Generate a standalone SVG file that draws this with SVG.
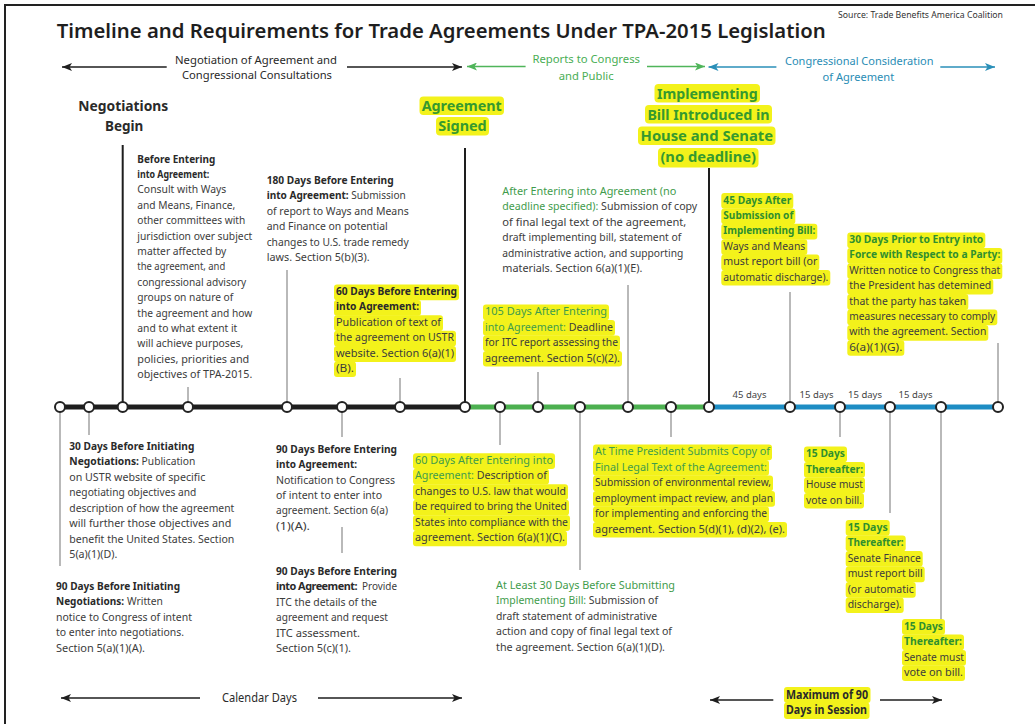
<svg xmlns="http://www.w3.org/2000/svg" width="1035" height="724" viewBox="0 0 1035 724">
<style>
  .t{font-family:"Noto Sans","Open Sans",sans-serif;font-size:10.8px;fill:#3c3c3c}
  .hd{font-weight:700;fill:#2a2a2a}
  .gn{fill:#3f9c4c}
  .gb{font-weight:700;fill:#2f8f2f}
  .big{font-family:"Noto Sans","Open Sans",sans-serif;font-size:15px;font-weight:700}
  .hl{fill:#f3f21b}
  .lead{stroke:#8a8a8a;stroke-width:1.2}
  .leadk{stroke:#1e1e1e;stroke-width:2}
  .node{fill:#fff;stroke:#222;stroke-width:2}
  .ph{font-family:"Noto Sans","Open Sans",sans-serif;font-size:11px}
  .days{font-family:"Noto Sans","Open Sans",sans-serif;font-size:9.5px;fill:#444}
</style>
<defs>
  <marker id="ak" markerUnits="userSpaceOnUse" markerWidth="10" markerHeight="8" refX="10" refY="4" orient="auto"><path d="M0,0 L10,4 L0,8 L2.5,4 z" fill="#1e1e1e"/></marker>
  <marker id="ag" markerUnits="userSpaceOnUse" markerWidth="10" markerHeight="8" refX="10" refY="4" orient="auto"><path d="M0,0 L10,4 L0,8 L2.5,4 z" fill="#4fb55a"/></marker>
  <marker id="ab" markerUnits="userSpaceOnUse" markerWidth="10" markerHeight="8" refX="10" refY="4" orient="auto"><path d="M0,0 L10,4 L0,8 L2.5,4 z" fill="#2a8fb8"/></marker>
</defs>
<rect width="1035" height="724" fill="#fff"/>
<rect x="5" y="5" width="1040" height="730" fill="none" stroke="#222" stroke-width="2"/>

<!-- heading -->
<g id="title">
  <text x="56.7" y="37.5" textLength="769" lengthAdjust="spacingAndGlyphs" style="font-family:'Noto Sans','Open Sans',sans-serif;font-size:19px;font-weight:600;fill:#1e1e1e">Timeline and Requirements for Trade Agreements Under TPA-2015 Legislation</text>
  <text x="838" y="18" textLength="165" lengthAdjust="spacingAndGlyphs" style="font-family:'Noto Sans','Open Sans',sans-serif;font-size:9.5px;fill:#333">Source: Trade Benefits America Coalition</text>
</g>

<!-- phase bands -->
<g id="phases">
  <line x1="166.7" y1="67" x2="62" y2="67" stroke="#1e1e1e" stroke-width="1.5" marker-end="url(#ak)"/>
  <line x1="347" y1="67" x2="462" y2="67" stroke="#1e1e1e" stroke-width="1.5" marker-end="url(#ak)"/>
  <text class="ph" x="175" y="63.5" textLength="162" lengthAdjust="spacingAndGlyphs" fill="#2a2a2a">Negotiation of Agreement and</text>
  <text class="ph" x="182" y="79" textLength="150" lengthAdjust="spacingAndGlyphs" fill="#2a2a2a">Congressional Consultations</text>
  <line x1="525.6" y1="66.5" x2="467" y2="66.5" stroke="#4fb55a" stroke-width="1.5" marker-end="url(#ag)"/>
  <line x1="647" y1="66.5" x2="705" y2="66.5" stroke="#4fb55a" stroke-width="1.5" marker-end="url(#ag)"/>
  <text class="ph" x="532.4" y="62.5" textLength="107.6" lengthAdjust="spacingAndGlyphs" fill="#4aae55">Reports to Congress</text>
  <text class="ph" x="558.7" y="79.5" textLength="55" lengthAdjust="spacingAndGlyphs" fill="#4aae55">and Public</text>
  <line x1="776.4" y1="67" x2="708.5" y2="67" stroke="#2a8fb8" stroke-width="1.5" marker-end="url(#ab)"/>
  <line x1="940.3" y1="67" x2="995" y2="67" stroke="#2a8fb8" stroke-width="1.5" marker-end="url(#ab)"/>
  <text class="ph" x="785" y="64.5" textLength="148.5" lengthAdjust="spacingAndGlyphs" fill="#2a8db5">Congressional Consideration</text>
  <text class="ph" x="822.5" y="80.5" textLength="71.7" lengthAdjust="spacingAndGlyphs" fill="#2a8db5">of Agreement</text>
</g>

<!-- milestone headings -->
<g id="negotiations-begin">
  <text class="big" fill="#2a2a2a"><tspan x="78.3" y="110.5" textLength="90" lengthAdjust="spacingAndGlyphs">Negotiations</tspan><tspan x="105" y="131" textLength="38.3" lengthAdjust="spacingAndGlyphs">Begin</tspan></text>
</g>
<g id="agreement-signed">
  <rect class="hl" x="419.5" y="96.5" width="84.5" height="18.5" rx="4"/>
  <rect class="hl" x="436" y="117" width="53" height="18.5" rx="4"/>
  <text class="big" fill="#35992f"><tspan x="421.7" y="110.5" textLength="80" lengthAdjust="spacingAndGlyphs">Agreement</tspan><tspan x="438.3" y="131" textLength="48.4" lengthAdjust="spacingAndGlyphs">Signed</tspan></text>
</g>
<g id="bill-introduced">
  <rect class="hl" x="654.5" y="84" width="105.5" height="18.5" rx="4"/>
  <rect class="hl" x="645" y="105" width="127" height="18.5" rx="4"/>
  <rect class="hl" x="638" y="126.5" width="137.5" height="18.5" rx="4"/>
  <rect class="hl" x="658" y="148" width="100.5" height="19.5" rx="4"/>
  <text class="big" fill="#35992f"><tspan x="657" y="98.5" textLength="100.7" lengthAdjust="spacingAndGlyphs">Implementing</tspan><tspan x="647.4" y="119.5" textLength="122" lengthAdjust="spacingAndGlyphs">Bill Introduced in</tspan><tspan x="640.6" y="140.5" textLength="132.4" lengthAdjust="spacingAndGlyphs">House and Senate</tspan><tspan x="660.4" y="161.5" textLength="95.6" lengthAdjust="spacingAndGlyphs">(no deadline)</tspan></text>
</g>

<!-- leader lines -->
<g id="connectors">
  <line class="leadk" x1="122.7" y1="145" x2="122.7" y2="407"/>
  <line class="leadk" x1="465" y1="148" x2="465" y2="407"/>
  <line class="leadk" x1="709" y1="168" x2="709" y2="407"/>
  <line class="lead" x1="188" y1="387" x2="188" y2="407"/>
  <line class="lead" x1="287" y1="270" x2="287" y2="407"/>
  <line class="lead" x1="400" y1="378" x2="400" y2="407"/>
  <line class="lead" x1="538" y1="372" x2="538" y2="407"/>
  <line class="lead" x1="628" y1="285" x2="628" y2="407"/>
  <line class="lead" x1="790" y1="292" x2="790" y2="407"/>
  <line class="lead" x1="998" y1="343" x2="998" y2="407"/>
  <line class="lead" x1="60" y1="407" x2="60" y2="566"/>
  <line class="lead" x1="89" y1="407" x2="89" y2="435"/>
  <line class="lead" x1="342" y1="407" x2="342" y2="437"/>
  <line class="lead" x1="342" y1="527" x2="342" y2="553"/>
  <line class="lead" x1="500" y1="407" x2="500" y2="445"/>
  <line class="lead" x1="580" y1="407" x2="580" y2="570"/>
  <line class="lead" x1="671" y1="407" x2="671" y2="437"/>
  <line class="lead" x1="840" y1="407" x2="840" y2="437"/>
  <line class="lead" x1="890" y1="407" x2="890" y2="513"/>
  <line class="lead" x1="941" y1="407" x2="941" y2="620"/>
</g>

<!-- main time axis -->
<g id="timeline">
  <line x1="60" y1="407" x2="465" y2="407" stroke="#1e1e1e" stroke-width="5"/>
  <line x1="465" y1="407" x2="709" y2="407" stroke="#4cb050" stroke-width="5"/>
  <line x1="709" y1="407" x2="998" y2="407" stroke="#1d8dc4" stroke-width="5"/>
  <circle class="node" cx="60" cy="407" r="5"/>
  <circle class="node" cx="89" cy="407" r="5"/>
  <circle class="node" cx="122.7" cy="407" r="5"/>
  <circle class="node" cx="188" cy="407" r="5"/>
  <circle class="node" cx="287" cy="407" r="5"/>
  <circle class="node" cx="342" cy="407" r="5"/>
  <circle class="node" cx="400" cy="407" r="5"/>
  <circle class="node" cx="465" cy="407" r="5"/>
  <circle class="node" cx="500" cy="407" r="5"/>
  <circle class="node" cx="538" cy="407" r="5"/>
  <circle class="node" cx="580" cy="407" r="5"/>
  <circle class="node" cx="628" cy="407" r="5"/>
  <circle class="node" cx="671" cy="407" r="5"/>
  <circle class="node" cx="709" cy="407" r="5"/>
  <circle class="node" cx="790" cy="407" r="5"/>
  <circle class="node" cx="840" cy="407" r="5"/>
  <circle class="node" cx="890" cy="407" r="5"/>
  <circle class="node" cx="941" cy="407" r="5"/>
  <circle class="node" cx="998" cy="407" r="5"/>
  <text class="days" x="749.5" y="398" text-anchor="middle">45 days</text>
  <text class="days" x="816.5" y="398" text-anchor="middle">15 days</text>
  <text class="days" x="865" y="398" text-anchor="middle">15 days</text>
  <text class="days" x="915.5" y="398" text-anchor="middle">15 days</text>
</g>

<!-- blocks above the axis -->
<g id="before-entering" class="t">
  <text class="hd" x="137.3" y="162.5" textLength="78" lengthAdjust="spacingAndGlyphs">Before Entering</text>
  <text class="hd" x="137.3" y="177.9" textLength="72" lengthAdjust="spacingAndGlyphs">into Agreement:</text>
  <text x="137.3" y="193.3" textLength="89" lengthAdjust="spacingAndGlyphs">Consult with Ways</text>
  <text x="137.3" y="208.7" textLength="98" lengthAdjust="spacingAndGlyphs">and Means, Finance,</text>
  <text x="137.3" y="224.1" textLength="108" lengthAdjust="spacingAndGlyphs">other committees with</text>
  <text x="137.3" y="239.5" textLength="115" lengthAdjust="spacingAndGlyphs">jurisdiction over subject</text>
  <text x="137.3" y="254.9" textLength="89" lengthAdjust="spacingAndGlyphs">matter affected by</text>
  <text x="137.3" y="270.3" textLength="88" lengthAdjust="spacingAndGlyphs">the agreement, and</text>
  <text x="137.3" y="285.7" textLength="109" lengthAdjust="spacingAndGlyphs">congressional advisory</text>
  <text x="137.3" y="301.1" textLength="96" lengthAdjust="spacingAndGlyphs">groups on nature of</text>
  <text x="137.3" y="316.5" textLength="115" lengthAdjust="spacingAndGlyphs">the agreement and how</text>
  <text x="137.3" y="331.9" textLength="100" lengthAdjust="spacingAndGlyphs">and to what extent it</text>
  <text x="137.3" y="347.3" textLength="106" lengthAdjust="spacingAndGlyphs">will achieve purposes,</text>
  <text x="137.3" y="362.7" textLength="112" lengthAdjust="spacingAndGlyphs">policies, priorities and</text>
  <text x="137.3" y="378.1" textLength="115" lengthAdjust="spacingAndGlyphs">objectives of TPA-2015.</text>
</g>

<g id="days-180-before" class="t">
  <text class="hd" x="266.7" y="184" textLength="127" lengthAdjust="spacingAndGlyphs">180 Days Before Entering</text>
  <text x="266.7" y="199.4" textLength="139" lengthAdjust="spacingAndGlyphs"><tspan class="hd">into Agreement:</tspan> Submission</text>
  <text x="266.7" y="214.8" textLength="142" lengthAdjust="spacingAndGlyphs">of report to Ways and Means</text>
  <text x="266.7" y="230.2" textLength="121" lengthAdjust="spacingAndGlyphs">and Finance on potential</text>
  <text x="266.7" y="245.6" textLength="142" lengthAdjust="spacingAndGlyphs">changes to U.S. trade remedy</text>
  <text x="266.7" y="261" textLength="103" lengthAdjust="spacingAndGlyphs">laws. Section 5(b)(3).</text>
</g>

<g id="days-60-before" class="t">
  <rect class="hl" x="334" y="284.5" width="125" height="15.8" rx="3"/>
  <rect class="hl" x="334" y="299.9" width="87" height="15.8" rx="3"/>
  <rect class="hl" x="334" y="315.3" width="109" height="15.8" rx="3"/>
  <rect class="hl" x="334" y="330.7" width="122" height="15.8" rx="3"/>
  <rect class="hl" x="334" y="346.1" width="122" height="15.8" rx="3"/>
  <rect class="hl" x="334" y="361.5" width="22" height="15.5" rx="3"/>
  <text class="hd" x="336" y="295" textLength="121" lengthAdjust="spacingAndGlyphs">60 Days Before Entering</text>
  <text class="hd" x="336" y="310.4" textLength="83" lengthAdjust="spacingAndGlyphs">into Agreement:</text>
  <text x="336" y="325.8" textLength="105" lengthAdjust="spacingAndGlyphs">Publication of text of</text>
  <text x="336" y="341.2" textLength="118" lengthAdjust="spacingAndGlyphs">the agreement on USTR</text>
  <text x="336" y="356.6" textLength="118" lengthAdjust="spacingAndGlyphs">website. Section 6(a)(1)</text>
  <text x="336" y="372" textLength="18" lengthAdjust="spacingAndGlyphs">(B).</text>
</g>

<g id="after-entering" class="t">
  <text class="gn" x="502.3" y="195" textLength="174" lengthAdjust="spacingAndGlyphs">After Entering into Agreement (no</text>
  <text x="502.3" y="210.4" textLength="195" lengthAdjust="spacingAndGlyphs"><tspan class="gn">deadline specified):</tspan> Submission of copy</text>
  <text x="502.3" y="225.8" textLength="184" lengthAdjust="spacingAndGlyphs">of final legal text of the agreement,</text>
  <text x="502.3" y="241.2" textLength="179" lengthAdjust="spacingAndGlyphs">draft implementing bill, statement of</text>
  <text x="502.3" y="256.6" textLength="181" lengthAdjust="spacingAndGlyphs">administrative action, and supporting</text>
  <text x="502.3" y="272" textLength="140" lengthAdjust="spacingAndGlyphs">materials. Section 6(a)(1)(E).</text>
</g>

<g id="days-105-after" class="t">
  <rect class="hl" x="483" y="304.5" width="126" height="15.8" rx="3"/>
  <rect class="hl" x="483" y="320" width="132" height="15.8" rx="3"/>
  <rect class="hl" x="483" y="335.5" width="137" height="15.8" rx="3"/>
  <rect class="hl" x="483" y="351" width="139" height="15.5" rx="3"/>
  <text class="gn" x="485" y="315" textLength="122" lengthAdjust="spacingAndGlyphs">105 Days After Entering</text>
  <text x="485" y="330.5" textLength="128" lengthAdjust="spacingAndGlyphs"><tspan class="gn">into Agreement:</tspan> Deadline</text>
  <text x="485" y="346" textLength="133" lengthAdjust="spacingAndGlyphs">for ITC report assessing the</text>
  <text x="485" y="361.5" textLength="135" lengthAdjust="spacingAndGlyphs">agreement. Section 5(c)(2).</text>
</g>

<g id="days-45-after" class="t">
  <rect class="hl" x="721.3" y="193" width="72" height="15.8" rx="3"/>
  <rect class="hl" x="721.3" y="208.4" width="74" height="15.8" rx="3"/>
  <rect class="hl" x="721.3" y="223.8" width="96" height="15.8" rx="3"/>
  <rect class="hl" x="721.3" y="239.2" width="86" height="15.8" rx="3"/>
  <rect class="hl" x="721.3" y="254.6" width="98" height="15.8" rx="3"/>
  <rect class="hl" x="721.3" y="270" width="109" height="15.5" rx="3"/>
  <text class="gb" x="723.3" y="203.5" textLength="68" lengthAdjust="spacingAndGlyphs">45 Days After</text>
  <text class="gb" x="723.3" y="218.9" textLength="70" lengthAdjust="spacingAndGlyphs">Submission of</text>
  <text class="gb" x="723.3" y="234.3" textLength="92" lengthAdjust="spacingAndGlyphs">Implementing Bill:</text>
  <text x="723.3" y="249.7" textLength="82" lengthAdjust="spacingAndGlyphs">Ways and Means</text>
  <text x="723.3" y="265.1" textLength="94" lengthAdjust="spacingAndGlyphs">must report bill (or</text>
  <text x="723.3" y="280.5" textLength="105" lengthAdjust="spacingAndGlyphs">automatic discharge).</text>
</g>

<g id="days-30-prior" class="t">
  <rect class="hl" x="847.3" y="232.5" width="138" height="15.8" rx="3"/>
  <rect class="hl" x="847.3" y="247.9" width="155" height="15.8" rx="3"/>
  <rect class="hl" x="847.3" y="263.3" width="155" height="15.8" rx="3"/>
  <rect class="hl" x="847.3" y="278.7" width="146" height="15.8" rx="3"/>
  <rect class="hl" x="847.3" y="294.1" width="121" height="15.8" rx="3"/>
  <rect class="hl" x="847.3" y="309.5" width="150" height="15.8" rx="3"/>
  <rect class="hl" x="847.3" y="324.9" width="141" height="15.8" rx="3"/>
  <rect class="hl" x="847.3" y="340.3" width="57" height="15.5" rx="3"/>
  <text class="gb" x="849.3" y="243" textLength="134" lengthAdjust="spacingAndGlyphs">30 Days Prior to Entry into</text>
  <text class="gb" x="849.3" y="258.4" textLength="151" lengthAdjust="spacingAndGlyphs">Force with Respect to a Party:</text>
  <text x="849.3" y="273.8" textLength="151" lengthAdjust="spacingAndGlyphs">Written notice to Congress that</text>
  <text x="849.3" y="289.2" textLength="142" lengthAdjust="spacingAndGlyphs">the President has detemined</text>
  <text x="849.3" y="304.6" textLength="117" lengthAdjust="spacingAndGlyphs">that the party has taken</text>
  <text x="849.3" y="320" textLength="146" lengthAdjust="spacingAndGlyphs">measures necessary to comply</text>
  <text x="849.3" y="335.4" textLength="137" lengthAdjust="spacingAndGlyphs">with the agreement. Section</text>
  <text x="849.3" y="350.8" textLength="53" lengthAdjust="spacingAndGlyphs">6(a)(1)(G).</text>
</g>

<!-- blocks below the axis -->
<g id="days-30-before-initiating" class="t">
  <text class="hd" x="69.3" y="449.5" textLength="125" lengthAdjust="spacingAndGlyphs">30 Days Before Initiating</text>
  <text x="69.3" y="465" textLength="126" lengthAdjust="spacingAndGlyphs"><tspan class="hd">Negotiations:</tspan> Publication</text>
  <text x="69.3" y="480.5" textLength="136" lengthAdjust="spacingAndGlyphs">on USTR website of specific</text>
  <text x="69.3" y="496" textLength="127" lengthAdjust="spacingAndGlyphs">negotiating objectives and</text>
  <text x="69.3" y="511.5" textLength="165" lengthAdjust="spacingAndGlyphs">description of how the agreement</text>
  <text x="69.3" y="527" textLength="162" lengthAdjust="spacingAndGlyphs">will further those objectives and</text>
  <text x="69.3" y="542.5" textLength="165" lengthAdjust="spacingAndGlyphs">benefit the United States. Section</text>
  <text x="69.3" y="558" textLength="48" lengthAdjust="spacingAndGlyphs">5(a)(1)(D).</text>
</g>

<g id="days-90-before-initiating" class="t">
  <text class="hd" x="56" y="589.5" textLength="124" lengthAdjust="spacingAndGlyphs">90 Days Before Initiating</text>
  <text class="hd" x="56" y="605" textLength="68" lengthAdjust="spacingAndGlyphs">Negotiations:</text>
  <text x="127" y="605" textLength="36" lengthAdjust="spacingAndGlyphs">Written</text>
  <text x="56" y="620.5" textLength="136" lengthAdjust="spacingAndGlyphs">notice to Congress of intent</text>
  <text x="56" y="636" textLength="128" lengthAdjust="spacingAndGlyphs">to enter into negotiations.</text>
  <text x="56" y="651.5" textLength="89" lengthAdjust="spacingAndGlyphs">Section 5(a)(1)(A).</text>
</g>

<g id="days-90-before-notice" class="t">
  <text class="hd" x="276" y="452.8" textLength="121" lengthAdjust="spacingAndGlyphs">90 Days Before Entering</text>
  <text class="hd" x="276" y="468.2" textLength="81" lengthAdjust="spacingAndGlyphs">into Agreement:</text>
  <text x="276" y="483.6" textLength="119" lengthAdjust="spacingAndGlyphs">Notification to Congress</text>
  <text x="276" y="499" textLength="106" lengthAdjust="spacingAndGlyphs">of intent to enter into</text>
  <text x="276" y="514.4" textLength="112" lengthAdjust="spacingAndGlyphs">agreement. Section 6(a)</text>
  <text x="276" y="529.8" textLength="34" lengthAdjust="spacingAndGlyphs">(1)(A).</text>
</g>

<g id="days-90-before-itc" class="t">
  <text class="hd" x="276" y="575" textLength="121" lengthAdjust="spacingAndGlyphs">90 Days Before Entering</text>
  <text class="hd" x="276" y="590.4" textLength="81" lengthAdjust="spacingAndGlyphs" style="letter-spacing:-0.5px">into Agreement:</text>
  <text x="362" y="590.4" textLength="35" lengthAdjust="spacingAndGlyphs">Provide</text>
  <text x="276" y="605.8" textLength="101" lengthAdjust="spacingAndGlyphs">ITC the details of the</text>
  <text x="276" y="621.2" textLength="112" lengthAdjust="spacingAndGlyphs">agreement and request</text>
  <text x="276" y="636.6" textLength="84" lengthAdjust="spacingAndGlyphs">ITC assessment.</text>
  <text x="276" y="652" textLength="75" lengthAdjust="spacingAndGlyphs">Section 5(c)(1).</text>
</g>

<g id="days-60-after" class="t">
  <rect class="hl" x="413" y="453.3" width="142" height="15.8" rx="3"/>
  <rect class="hl" x="413" y="468.8" width="136" height="15.8" rx="3"/>
  <rect class="hl" x="413" y="484.3" width="155" height="15.8" rx="3"/>
  <rect class="hl" x="413" y="499.8" width="156" height="15.8" rx="3"/>
  <rect class="hl" x="413" y="515.3" width="157" height="15.8" rx="3"/>
  <rect class="hl" x="413" y="530.8" width="154" height="15.5" rx="3"/>
  <text class="gn" x="415" y="463.8" textLength="138" lengthAdjust="spacingAndGlyphs">60 Days After Entering into</text>
  <text x="415" y="479.3" textLength="132" lengthAdjust="spacingAndGlyphs"><tspan class="gn">Agreement:</tspan> Description of</text>
  <text x="415" y="494.8" textLength="151" lengthAdjust="spacingAndGlyphs">changes to U.S. law that would</text>
  <text x="415" y="510.3" textLength="152" lengthAdjust="spacingAndGlyphs">be required to bring the United</text>
  <text x="415" y="525.8" textLength="153" lengthAdjust="spacingAndGlyphs">States into compliance with the</text>
  <text x="415" y="541.3" textLength="150" lengthAdjust="spacingAndGlyphs">agreement. Section 6(a)(1)(C).</text>
</g>

<g id="at-least-30-before" class="t">
  <text class="gn" x="496" y="588.5" textLength="179" lengthAdjust="spacingAndGlyphs">At Least 30 Days Before Submitting</text>
  <text x="496" y="604" textLength="162" lengthAdjust="spacingAndGlyphs"><tspan class="gn">Implementing Bill:</tspan> Submission of</text>
  <text x="496" y="619.5" textLength="161" lengthAdjust="spacingAndGlyphs">draft statement of administrative</text>
  <text x="496" y="635" textLength="176" lengthAdjust="spacingAndGlyphs">action and copy of final legal text of</text>
  <text x="496" y="650.5" textLength="169" lengthAdjust="spacingAndGlyphs">the agreement. Section 6(a)(1)(D).</text>
</g>

<g id="at-time-president" class="t">
  <rect class="hl" x="593" y="444.5" width="179" height="15.8" rx="3"/>
  <rect class="hl" x="593" y="460" width="176" height="15.8" rx="3"/>
  <rect class="hl" x="593" y="475.5" width="180" height="15.8" rx="3"/>
  <rect class="hl" x="593" y="491" width="182" height="15.8" rx="3"/>
  <rect class="hl" x="593" y="506.5" width="176" height="15.8" rx="3"/>
  <rect class="hl" x="593" y="522" width="194" height="15.5" rx="3"/>
  <text class="gn" x="595" y="455" textLength="175" lengthAdjust="spacingAndGlyphs">At Time President Submits Copy of</text>
  <text class="gn" x="595" y="470.5" textLength="172" lengthAdjust="spacingAndGlyphs">Final Legal Text of the Agreement:</text>
  <text x="595" y="486" textLength="176" lengthAdjust="spacingAndGlyphs">Submission of environmental review,</text>
  <text x="595" y="501.5" textLength="178" lengthAdjust="spacingAndGlyphs">employment impact review, and plan</text>
  <text x="595" y="517" textLength="172" lengthAdjust="spacingAndGlyphs">for implementing and enforcing the</text>
  <text x="595" y="532.5" textLength="190" lengthAdjust="spacingAndGlyphs">agreement. Section 5(d)(1), (d)(2), (e).</text>
</g>

<g id="house-vote" class="t">
  <rect class="hl" x="804" y="446.5" width="43" height="15.8" rx="3"/>
  <rect class="hl" x="804" y="462" width="61" height="15.8" rx="3"/>
  <rect class="hl" x="804" y="477.5" width="61" height="15.8" rx="3"/>
  <rect class="hl" x="804" y="493" width="60" height="15.5" rx="3"/>
  <text class="gb" x="806" y="457" textLength="39" lengthAdjust="spacingAndGlyphs">15 Days</text>
  <text class="gb" x="806" y="472.5" textLength="57" lengthAdjust="spacingAndGlyphs">Thereafter:</text>
  <text x="806" y="488" textLength="57" lengthAdjust="spacingAndGlyphs">House must</text>
  <text x="806" y="503.5" textLength="56" lengthAdjust="spacingAndGlyphs">vote on bill.</text>
</g>

<g id="senate-finance" class="t">
  <rect class="hl" x="845.7" y="520" width="44" height="15.8" rx="3"/>
  <rect class="hl" x="845.7" y="535.5" width="60" height="15.8" rx="3"/>
  <rect class="hl" x="845.7" y="551" width="77" height="15.8" rx="3"/>
  <rect class="hl" x="845.7" y="566.5" width="79" height="15.8" rx="3"/>
  <rect class="hl" x="845.7" y="582" width="70" height="15.8" rx="3"/>
  <rect class="hl" x="845.7" y="597.5" width="58" height="15.5" rx="3"/>
  <text class="gb" x="847.7" y="530.5" textLength="40" lengthAdjust="spacingAndGlyphs">15 Days</text>
  <text class="gb" x="847.7" y="546" textLength="56" lengthAdjust="spacingAndGlyphs">Thereafter:</text>
  <text x="847.7" y="561.5" textLength="73" lengthAdjust="spacingAndGlyphs">Senate Finance</text>
  <text x="847.7" y="577" textLength="75" lengthAdjust="spacingAndGlyphs">must report bill</text>
  <text x="847.7" y="592.5" textLength="66" lengthAdjust="spacingAndGlyphs">(or automatic</text>
  <text x="847.7" y="608" textLength="54" lengthAdjust="spacingAndGlyphs">discharge).</text>
</g>

<g id="senate-vote" class="t">
  <rect class="hl" x="902" y="619" width="43" height="15.8" rx="3"/>
  <rect class="hl" x="902" y="634.5" width="62" height="15.8" rx="3"/>
  <rect class="hl" x="902" y="650" width="64" height="15.8" rx="3"/>
  <rect class="hl" x="902" y="665.5" width="63" height="15.5" rx="3"/>
  <text class="gb" x="904" y="629.5" textLength="39" lengthAdjust="spacingAndGlyphs">15 Days</text>
  <text class="gb" x="904" y="645" textLength="58" lengthAdjust="spacingAndGlyphs">Thereafter:</text>
  <text x="904" y="660.5" textLength="60" lengthAdjust="spacingAndGlyphs">Senate must</text>
  <text x="904" y="676" textLength="59" lengthAdjust="spacingAndGlyphs">vote on bill.</text>
</g>

<!-- spans along the bottom -->
<g id="calendar-days">
  <line x1="200" y1="698" x2="61" y2="698" stroke="#1e1e1e" stroke-width="1.5" marker-end="url(#ak)"/>
  <line x1="318" y1="698" x2="462" y2="698" stroke="#1e1e1e" stroke-width="1.5" marker-end="url(#ak)"/>
  <text x="222" y="702" textLength="75" lengthAdjust="spacingAndGlyphs" style="font-family:'Noto Sans','Open Sans',sans-serif;font-size:12px;fill:#2a2a2a">Calendar Days</text>
</g>
<g id="max-90-days">
  <line x1="773.3" y1="700" x2="710" y2="700" stroke="#1e1e1e" stroke-width="1.5" marker-end="url(#ak)"/>
  <line x1="880" y1="700" x2="942" y2="700" stroke="#1e1e1e" stroke-width="1.5" marker-end="url(#ak)"/>
  <rect class="hl" x="784" y="687" width="86.5" height="16" rx="3"/>
  <rect class="hl" x="784" y="702.5" width="85.5" height="16.5" rx="3"/>
  <text style="font-family:'Noto Sans','Open Sans',sans-serif;font-size:12.5px;font-weight:700;fill:#2a2a2a"><tspan x="786" y="698.5" textLength="82" lengthAdjust="spacingAndGlyphs">Maximum of 90</tspan><tspan x="786" y="714" textLength="81" lengthAdjust="spacingAndGlyphs">Days in Session</tspan></text>
</g>
</svg>
